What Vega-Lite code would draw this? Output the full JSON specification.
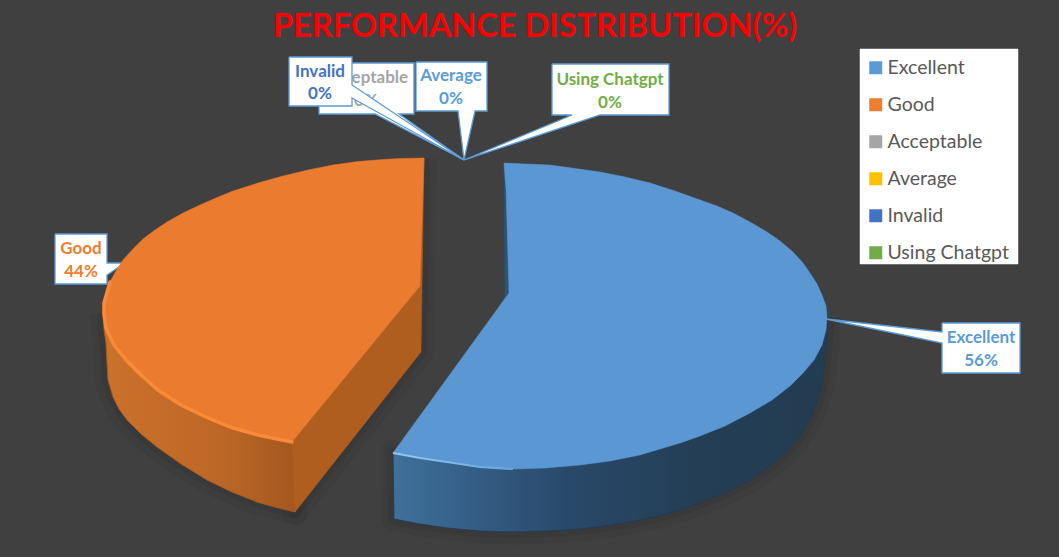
{
  "$schema": "https://vega.github.io/schema/vega-lite/v6.json",
  "width": 1059,
  "height": 557,
  "padding": 0,
  "autosize": "none",
  "background": "#404040",
  "datasets": {
    "heading": [
      {"text": "PERFORMANCE DISTRIBUTION(%)", "x": 535, "y": 37}
    ],
    "labels": [
      {"category": "Excellent", "text": "Excellent", "x": 981, "y": 338},
      {"category": "Excellent", "text": "56%", "x": 981, "y": 361},
      {"category": "Good", "text": "Good", "x": 81, "y": 249},
      {"category": "Good", "text": "44%", "x": 81, "y": 272},
      {"category": "Acceptable", "text": "Acceptable", "x": 366, "y": 78},
      {"category": "Acceptable", "text": "0%", "x": 366, "y": 101},
      {"category": "Average", "text": "Average", "x": 451, "y": 76},
      {"category": "Average", "text": "0%", "x": 451, "y": 99},
      {"category": "Invalid", "text": "Invalid", "x": 320, "y": 72},
      {"category": "Invalid", "text": "0%", "x": 320, "y": 94},
      {"category": "Using Chatgpt", "text": "Using Chatgpt", "x": 610, "y": 80},
      {"category": "Using Chatgpt", "text": "0%", "x": 610, "y": 103}
    ],
    "outlines": [
      {"part": "legendPanel", "i": 1, "x": 860, "y": 49}, {"part": "legendPanel", "i": 2, "x": 1018, "y": 49}, {"part": "legendPanel", "i": 3, "x": 1018, "y": 264}, {"part": "legendPanel", "i": 4, "x": 860, "y": 264}, {"part": "legendPanel", "i": 5, "x": 860, "y": 49},

      {"part": "blueTop", "i": 1, "x": 504, "y": 163}, {"part": "blueTop", "i": 2, "x": 550, "y": 165}, {"part": "blueTop", "i": 3, "x": 600, "y": 172},
      {"part": "blueTop", "i": 4, "x": 625, "y": 177}, {"part": "blueTop", "i": 5, "x": 650, "y": 183}, {"part": "blueTop", "i": 6, "x": 675, "y": 191},
      {"part": "blueTop", "i": 7, "x": 700, "y": 200}, {"part": "blueTop", "i": 8, "x": 717, "y": 206}, {"part": "blueTop", "i": 9, "x": 733, "y": 213},
      {"part": "blueTop", "i": 10, "x": 750, "y": 222}, {"part": "blueTop", "i": 11, "x": 767, "y": 232}, {"part": "blueTop", "i": 12, "x": 780, "y": 241},
      {"part": "blueTop", "i": 13, "x": 793, "y": 252}, {"part": "blueTop", "i": 14, "x": 803, "y": 263}, {"part": "blueTop", "i": 15, "x": 810, "y": 273},
      {"part": "blueTop", "i": 16, "x": 817, "y": 284}, {"part": "blueTop", "i": 17, "x": 822, "y": 295}, {"part": "blueTop", "i": 18, "x": 826, "y": 306},
      {"part": "blueTop", "i": 19, "x": 827, "y": 317}, {"part": "blueTop", "i": 20, "x": 826, "y": 330}, {"part": "blueTop", "i": 21, "x": 822, "y": 345},
      {"part": "blueTop", "i": 22, "x": 814, "y": 360}, {"part": "blueTop", "i": 23, "x": 803, "y": 373}, {"part": "blueTop", "i": 24, "x": 790, "y": 386},
      {"part": "blueTop", "i": 25, "x": 772, "y": 400}, {"part": "blueTop", "i": 26, "x": 750, "y": 413}, {"part": "blueTop", "i": 27, "x": 725, "y": 426},
      {"part": "blueTop", "i": 28, "x": 700, "y": 436}, {"part": "blueTop", "i": 29, "x": 680, "y": 443}, {"part": "blueTop", "i": 30, "x": 660, "y": 449},
      {"part": "blueTop", "i": 31, "x": 640, "y": 455}, {"part": "blueTop", "i": 32, "x": 610, "y": 461}, {"part": "blueTop", "i": 33, "x": 580, "y": 465},
      {"part": "blueTop", "i": 34, "x": 545, "y": 468}, {"part": "blueTop", "i": 35, "x": 513, "y": 469}, {"part": "blueTop", "i": 36, "x": 480, "y": 467},
      {"part": "blueTop", "i": 37, "x": 447, "y": 462}, {"part": "blueTop", "i": 38, "x": 420, "y": 458}, {"part": "blueTop", "i": 39, "x": 393, "y": 453},
      {"part": "blueTop", "i": 40, "x": 509, "y": 293}, {"part": "blueTop", "i": 41, "x": 506, "y": 190}, {"part": "blueTop", "i": 42, "x": 504, "y": 163},

      {"part": "blueSliver", "i": 1, "x": 504, "y": 164}, {"part": "blueSliver", "i": 2, "x": 505, "y": 296}, {"part": "blueSliver", "i": 3, "x": 500, "y": 305}, {"part": "blueSliver", "i": 4, "x": 509, "y": 293}, {"part": "blueSliver", "i": 5, "x": 504, "y": 164},

      {"part": "blueSide", "i": 1, "x": 827, "y": 317}, {"part": "blueSide", "i": 2, "x": 827, "y": 340}, {"part": "blueSide", "i": 3, "x": 825, "y": 363},
      {"part": "blueSide", "i": 4, "x": 822, "y": 385}, {"part": "blueSide", "i": 5, "x": 816, "y": 405}, {"part": "blueSide", "i": 6, "x": 808, "y": 423},
      {"part": "blueSide", "i": 7, "x": 797, "y": 440}, {"part": "blueSide", "i": 8, "x": 783, "y": 455}, {"part": "blueSide", "i": 9, "x": 767, "y": 468},
      {"part": "blueSide", "i": 10, "x": 750, "y": 480}, {"part": "blueSide", "i": 11, "x": 733, "y": 489}, {"part": "blueSide", "i": 12, "x": 715, "y": 497},
      {"part": "blueSide", "i": 13, "x": 697, "y": 504}, {"part": "blueSide", "i": 14, "x": 680, "y": 510}, {"part": "blueSide", "i": 15, "x": 655, "y": 517},
      {"part": "blueSide", "i": 16, "x": 630, "y": 522}, {"part": "blueSide", "i": 17, "x": 605, "y": 526}, {"part": "blueSide", "i": 18, "x": 580, "y": 529},
      {"part": "blueSide", "i": 19, "x": 547, "y": 531}, {"part": "blueSide", "i": 20, "x": 513, "y": 532}, {"part": "blueSide", "i": 21, "x": 480, "y": 531},
      {"part": "blueSide", "i": 22, "x": 447, "y": 528}, {"part": "blueSide", "i": 23, "x": 420, "y": 524}, {"part": "blueSide", "i": 24, "x": 394, "y": 519},
      {"part": "blueSide", "i": 25, "x": 393, "y": 453}, {"part": "blueSide", "i": 26, "x": 513, "y": 469}, {"part": "blueSide", "i": 27, "x": 700, "y": 436},
      {"part": "blueSide", "i": 28, "x": 827, "y": 317},

      {"part": "blueEdge", "i": 1, "x": 393, "y": 453}, {"part": "blueEdge", "i": 2, "x": 420, "y": 458}, {"part": "blueEdge", "i": 3, "x": 447, "y": 462},
      {"part": "blueEdge", "i": 4, "x": 480, "y": 467}, {"part": "blueEdge", "i": 5, "x": 513, "y": 469},

      {"part": "orangeTop", "i": 1, "x": 424, "y": 158}, {"part": "orangeTop", "i": 2, "x": 400, "y": 158.5}, {"part": "orangeTop", "i": 3, "x": 383, "y": 159.5},
      {"part": "orangeTop", "i": 4, "x": 358, "y": 161.5}, {"part": "orangeTop", "i": 5, "x": 333, "y": 165}, {"part": "orangeTop", "i": 6, "x": 308, "y": 170},
      {"part": "orangeTop", "i": 7, "x": 283, "y": 176}, {"part": "orangeTop", "i": 8, "x": 258, "y": 183}, {"part": "orangeTop", "i": 9, "x": 233, "y": 191},
      {"part": "orangeTop", "i": 10, "x": 216, "y": 198}, {"part": "orangeTop", "i": 11, "x": 200, "y": 205}, {"part": "orangeTop", "i": 12, "x": 183, "y": 213},
      {"part": "orangeTop", "i": 13, "x": 167, "y": 222}, {"part": "orangeTop", "i": 14, "x": 155, "y": 230}, {"part": "orangeTop", "i": 15, "x": 143, "y": 239},
      {"part": "orangeTop", "i": 16, "x": 133, "y": 249}, {"part": "orangeTop", "i": 17, "x": 123, "y": 260}, {"part": "orangeTop", "i": 18, "x": 116, "y": 271},
      {"part": "orangeTop", "i": 19, "x": 110, "y": 282}, {"part": "orangeTop", "i": 20, "x": 106, "y": 293}, {"part": "orangeTop", "i": 21, "x": 104, "y": 303},
      {"part": "orangeTop", "i": 22, "x": 103, "y": 313}, {"part": "orangeTop", "i": 23, "x": 105, "y": 328}, {"part": "orangeTop", "i": 24, "x": 113, "y": 345},
      {"part": "orangeTop", "i": 25, "x": 127, "y": 362}, {"part": "orangeTop", "i": 26, "x": 140, "y": 375}, {"part": "orangeTop", "i": 27, "x": 157, "y": 390},
      {"part": "orangeTop", "i": 28, "x": 180, "y": 405}, {"part": "orangeTop", "i": 29, "x": 207, "y": 418}, {"part": "orangeTop", "i": 30, "x": 232, "y": 428},
      {"part": "orangeTop", "i": 31, "x": 257, "y": 435}, {"part": "orangeTop", "i": 32, "x": 292, "y": 442}, {"part": "orangeTop", "i": 33, "x": 420, "y": 286},
      {"part": "orangeTop", "i": 34, "x": 424, "y": 158},

      {"part": "orangeCut", "i": 1, "x": 424, "y": 158}, {"part": "orangeCut", "i": 2, "x": 421, "y": 352}, {"part": "orangeCut", "i": 3, "x": 295, "y": 512},
      {"part": "orangeCut", "i": 4, "x": 292, "y": 442}, {"part": "orangeCut", "i": 5, "x": 420, "y": 286}, {"part": "orangeCut", "i": 6, "x": 424, "y": 158},

      {"part": "orangeSide", "i": 1, "x": 103, "y": 313}, {"part": "orangeSide", "i": 2, "x": 104, "y": 330}, {"part": "orangeSide", "i": 3, "x": 106, "y": 343},
      {"part": "orangeSide", "i": 4, "x": 107, "y": 362}, {"part": "orangeSide", "i": 5, "x": 108, "y": 380}, {"part": "orangeSide", "i": 6, "x": 113, "y": 397},
      {"part": "orangeSide", "i": 7, "x": 119, "y": 409}, {"part": "orangeSide", "i": 8, "x": 127, "y": 420}, {"part": "orangeSide", "i": 9, "x": 141, "y": 434},
      {"part": "orangeSide", "i": 10, "x": 157, "y": 447}, {"part": "orangeSide", "i": 11, "x": 181, "y": 464}, {"part": "orangeSide", "i": 12, "x": 207, "y": 480},
      {"part": "orangeSide", "i": 13, "x": 232, "y": 492}, {"part": "orangeSide", "i": 14, "x": 257, "y": 502}, {"part": "orangeSide", "i": 15, "x": 275, "y": 507},
      {"part": "orangeSide", "i": 16, "x": 295, "y": 512}, {"part": "orangeSide", "i": 17, "x": 292, "y": 442}, {"part": "orangeSide", "i": 18, "x": 207, "y": 418},
      {"part": "orangeSide", "i": 19, "x": 127, "y": 362}, {"part": "orangeSide", "i": 20, "x": 103, "y": 313},

      {"part": "orangeEdge", "i": 1, "x": 110, "y": 282}, {"part": "orangeEdge", "i": 2, "x": 104, "y": 303}, {"part": "orangeEdge", "i": 3, "x": 104, "y": 314},
      {"part": "orangeEdge", "i": 4, "x": 106, "y": 328}, {"part": "orangeEdge", "i": 5, "x": 114, "y": 345}, {"part": "orangeEdge", "i": 6, "x": 128, "y": 362},
      {"part": "orangeEdge", "i": 7, "x": 141, "y": 375}, {"part": "orangeEdge", "i": 8, "x": 158, "y": 390}, {"part": "orangeEdge", "i": 9, "x": 181, "y": 405},
      {"part": "orangeEdge", "i": 10, "x": 208, "y": 418}, {"part": "orangeEdge", "i": 11, "x": 233, "y": 428}, {"part": "orangeEdge", "i": 12, "x": 258, "y": 435},
      {"part": "orangeEdge", "i": 13, "x": 292, "y": 442},

      {"part": "calloutGood", "i": 1, "x": 55, "y": 234}, {"part": "calloutGood", "i": 2, "x": 107, "y": 234}, {"part": "calloutGood", "i": 3, "x": 107, "y": 263},
      {"part": "calloutGood", "i": 4, "x": 125, "y": 263}, {"part": "calloutGood", "i": 5, "x": 107, "y": 275}, {"part": "calloutGood", "i": 6, "x": 107, "y": 284},
      {"part": "calloutGood", "i": 7, "x": 55, "y": 284}, {"part": "calloutGood", "i": 8, "x": 55, "y": 234},

      {"part": "calloutExcellent", "i": 1, "x": 942, "y": 323}, {"part": "calloutExcellent", "i": 2, "x": 1020, "y": 323}, {"part": "calloutExcellent", "i": 3, "x": 1020, "y": 373},
      {"part": "calloutExcellent", "i": 4, "x": 942, "y": 373}, {"part": "calloutExcellent", "i": 5, "x": 942, "y": 343}, {"part": "calloutExcellent", "i": 6, "x": 826, "y": 319},
      {"part": "calloutExcellent", "i": 7, "x": 942, "y": 332}, {"part": "calloutExcellent", "i": 8, "x": 942, "y": 323},

      {"part": "calloutAverage", "i": 1, "x": 416, "y": 62}, {"part": "calloutAverage", "i": 2, "x": 487, "y": 62}, {"part": "calloutAverage", "i": 3, "x": 487, "y": 111},
      {"part": "calloutAverage", "i": 4, "x": 475, "y": 111}, {"part": "calloutAverage", "i": 5, "x": 464, "y": 160}, {"part": "calloutAverage", "i": 6, "x": 458, "y": 111},
      {"part": "calloutAverage", "i": 7, "x": 416, "y": 111}, {"part": "calloutAverage", "i": 8, "x": 416, "y": 62},

      {"part": "calloutChatgpt", "i": 1, "x": 552, "y": 64}, {"part": "calloutChatgpt", "i": 2, "x": 669, "y": 64}, {"part": "calloutChatgpt", "i": 3, "x": 669, "y": 115},
      {"part": "calloutChatgpt", "i": 4, "x": 600, "y": 115}, {"part": "calloutChatgpt", "i": 5, "x": 464, "y": 160}, {"part": "calloutChatgpt", "i": 6, "x": 572, "y": 115},
      {"part": "calloutChatgpt", "i": 7, "x": 552, "y": 115}, {"part": "calloutChatgpt", "i": 8, "x": 552, "y": 64},

      {"part": "calloutAcceptable", "i": 1, "x": 319, "y": 63}, {"part": "calloutAcceptable", "i": 2, "x": 414, "y": 63}, {"part": "calloutAcceptable", "i": 3, "x": 414, "y": 114},
      {"part": "calloutAcceptable", "i": 4, "x": 399, "y": 114}, {"part": "calloutAcceptable", "i": 5, "x": 464, "y": 160}, {"part": "calloutAcceptable", "i": 6, "x": 375, "y": 114},
      {"part": "calloutAcceptable", "i": 7, "x": 319, "y": 114}, {"part": "calloutAcceptable", "i": 8, "x": 319, "y": 63},

      {"part": "calloutInvalid", "i": 1, "x": 289, "y": 57}, {"part": "calloutInvalid", "i": 2, "x": 352, "y": 57}, {"part": "calloutInvalid", "i": 3, "x": 352, "y": 85},
      {"part": "calloutInvalid", "i": 4, "x": 464, "y": 160}, {"part": "calloutInvalid", "i": 5, "x": 352, "y": 98}, {"part": "calloutInvalid", "i": 6, "x": 352, "y": 106},
      {"part": "calloutInvalid", "i": 7, "x": 289, "y": 106}, {"part": "calloutInvalid", "i": 8, "x": 289, "y": 57}
    ]
  },
  "data": {"name": "outlines"},
  "encoding": {
    "x": {"field": "x", "type": "quantitative", "axis": null, "scale": {"domain": [0, 1059], "nice": false, "zero": false}},
    "y": {"field": "y", "type": "quantitative", "axis": null, "scale": {"domain": [0, 557], "nice": false, "zero": false, "reverse": true}},
    "order": {"field": "i", "type": "quantitative"}
  },
  "layer": [
    {
      "transform": [{"filter": "datum.part === 'legendPanel'"}],
      "mark": {"type": "line", "fill": "#ffffff", "stroke": "#ffffff", "strokeWidth": 0.5}
    },
    {
      "data": {"name": "heading"},
      "mark": {"type": "text", "font": "Lato", "fontSize": 32.5, "fontWeight": "bold", "color": "#ff0000", "align": "center", "baseline": "alphabetic"},
      "encoding": {"order": {"value": 0}, "text": {"field": "text"}}
    },
    {
      "transform": [{"filter": "datum.part === 'blueSide' || datum.part === 'orangeSide' || datum.part === 'orangeCut'"}],
      "mark": {"type": "line", "stroke": "#000000", "strokeOpacity": 0.035, "strokeWidth": 26, "strokeJoin": "round"},
      "encoding": {"detail": {"field": "part"}}
    },
    {
      "transform": [{"filter": "datum.part === 'blueSide' || datum.part === 'orangeSide' || datum.part === 'orangeCut'"}],
      "mark": {"type": "line", "stroke": "#000000", "strokeOpacity": 0.05, "strokeWidth": 12, "strokeJoin": "round"},
      "encoding": {"detail": {"field": "part"}}
    },
    {
      "transform": [{"filter": "datum.part === 'calloutGood'"}],
      "mark": {"type": "line", "fill": "#ffffff", "stroke": "#5b9bd5", "strokeWidth": 1.3}
    },
    {
      "transform": [{"filter": "datum.part === 'orangeSide'"}],
      "mark": {"type": "line", "stroke": "#a5591f", "strokeWidth": 1, "fill": {"gradient": "linear", "x1": 0, "y1": 0, "x2": 1, "y2": 0, "stops": [{"offset": 0, "color": "#cb722b"}, {"offset": 0.6, "color": "#bd6727"}, {"offset": 1, "color": "#a4581f"}]}}
    },
    {
      "transform": [{"filter": "datum.part === 'orangeCut'"}],
      "mark": {"type": "line", "stroke": "#af5e20", "strokeWidth": 0.5, "fill": "#af5e20"}
    },
    {
      "transform": [{"filter": "datum.part === 'orangeTop'"}],
      "mark": {"type": "line", "stroke": "#eb7b2f", "strokeWidth": 0.5, "fill": "#eb7b2f"}
    },
    {
      "transform": [{"filter": "datum.part === 'orangeEdge'"}],
      "mark": {"type": "line", "stroke": "#fb8a36", "strokeWidth": 3.5, "strokeCap": "round"}
    },
    {
      "transform": [{"filter": "datum.part === 'blueSliver'"}],
      "mark": {"type": "line", "stroke": "#2a5578", "strokeWidth": 0.5, "fill": "#2a5578"}
    },
    {
      "transform": [{"filter": "datum.part === 'blueSide'"}],
      "mark": {"type": "line", "stroke": "#1f3a51", "strokeWidth": 0.8, "fill": {"gradient": "linear", "x1": 0, "y1": 0, "x2": 1, "y2": 0, "stops": [{"offset": 0, "color": "#3f719a"}, {"offset": 0.15, "color": "#36618a"}, {"offset": 0.4, "color": "#29496a"}, {"offset": 0.7, "color": "#233e55"}, {"offset": 1, "color": "#233c52"}]}}
    },
    {
      "transform": [{"filter": "datum.part === 'blueTop'"}],
      "mark": {"type": "line", "stroke": "#5b98d3", "strokeWidth": 0.5, "fill": "#5b98d3"}
    },
    {
      "transform": [{"filter": "datum.part === 'blueEdge'"}],
      "mark": {"type": "line", "strokeWidth": 2.2, "stroke": {"gradient": "linear", "x1": 0, "y1": 0, "x2": 1, "y2": 0, "stops": [{"offset": 0, "color": "#93c8f2"}, {"offset": 1, "color": "#66a6dd"}]}}
    },
    {
      "transform": [{"filter": "datum.part === 'calloutExcellent' || datum.part === 'calloutChatgpt' || datum.part === 'calloutAverage'"}],
      "mark": {"type": "line", "fill": "#ffffff", "stroke": "#5b9bd5", "strokeWidth": 1.3},
      "encoding": {"detail": {"field": "part"}}
    },
    {
      "transform": [{"filter": "datum.part === 'calloutAcceptable'"}],
      "mark": {"type": "line", "fill": "#ffffff", "stroke": "#5b9bd5", "strokeWidth": 1.3}
    },
    {
      "data": {"name": "labels"},
      "transform": [{"filter": "datum.category === 'Acceptable'"}],
      "mark": {"type": "text", "font": "Lato", "fontSize": 17, "fontWeight": "bold", "baseline": "middle", "align": "center"},
      "encoding": {
        "order": {"value": 0},
        "text": {"field": "text"},
        "color": {"field": "category", "type": "nominal", "legend": {"orient": "none", "legendX": 857, "legendY": 49, "title": null}}
      }
    },
    {
      "transform": [{"filter": "datum.part === 'calloutInvalid'"}],
      "mark": {"type": "line", "fill": "#ffffff", "stroke": "#5b9bd5", "strokeWidth": 1.3}
    },
    {
      "data": {"name": "labels"},
      "transform": [{"filter": "datum.category !== 'Acceptable'"}],
      "mark": {"type": "text", "font": "Lato", "fontSize": 17, "fontWeight": "bold", "baseline": "middle", "align": "center"},
      "encoding": {
        "order": {"value": 0},
        "text": {"field": "text"},
        "color": {
          "condition": {"test": "datum.category === 'Average'", "value": "#5b9bd5"},
          "field": "category",
          "type": "nominal",
          "legend": {"orient": "none", "legendX": 857, "legendY": 49, "title": null}
        }
      }
    },
    {
      "data": {"name": "labels"},
      "mark": {"type": "point", "filled": true, "size": 0},
      "encoding": {
        "order": {"value": 0},
        "color": {
          "field": "category",
          "type": "nominal",
          "scale": {
            "domain": ["Excellent", "Good", "Acceptable", "Average", "Invalid", "Using Chatgpt"],
            "range": ["#5b9bd5", "#ed7d31", "#a5a5a5", "#ffc000", "#4472c4", "#70ad47"]
          },
          "legend": {"orient": "none", "legendX": 857, "legendY": 49, "title": null}
        }
      }
    }
  ],
  "config": {
    "view": {"stroke": null},
    "legend": {
      "padding": 9,
      "symbolType": "square",
      "symbolSize": 169,
      "symbolOpacity": 1,
      "symbolStrokeWidth": 0,
      "labelFont": "Lato",
      "labelFontSize": 19.5,
      "labelColor": "#595959",
      "labelOffset": 2,
      "rowPadding": 16
    }
  }
}
